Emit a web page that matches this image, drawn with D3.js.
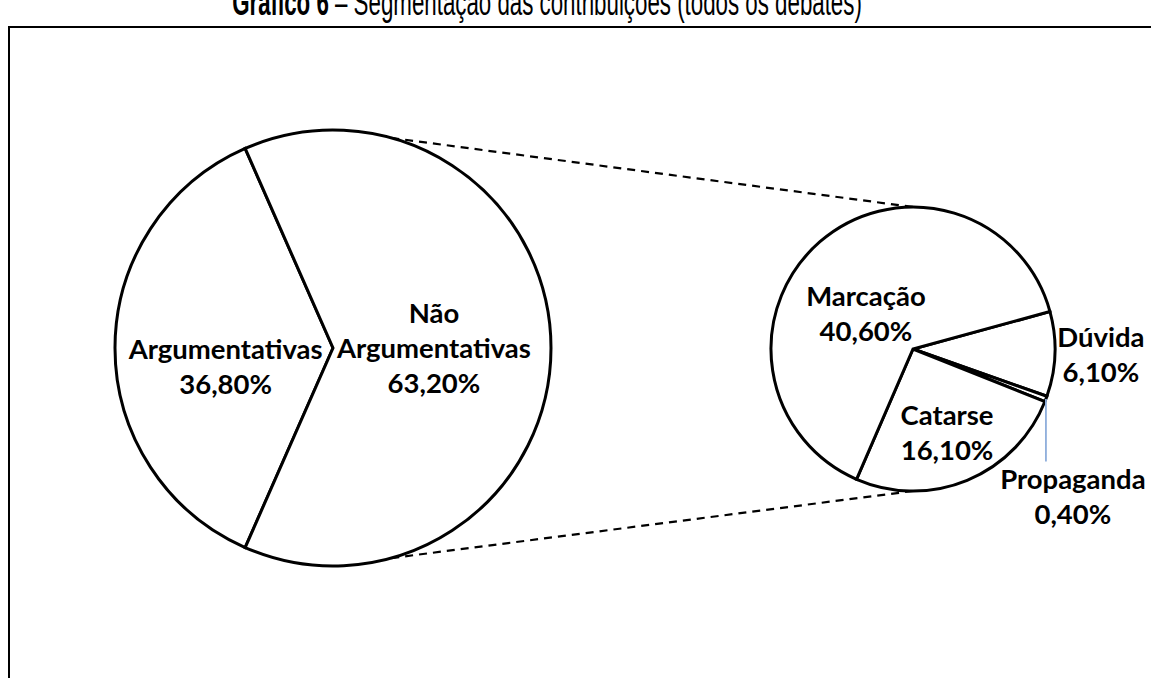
<!DOCTYPE html>
<html>
<head>
<meta charset="utf-8">
<script src="https://cdn.jsdelivr.net/npm/d3@7"></script>
<style>
  body { margin: 0; background: #fff; }
  svg { display: block; }
</style>
</head>
<body>
<script>
// data
const titleBold = "Gráfico 6";
const titleRest = " – Segmentação das contribuições (todos os debates)";
const mainCategories = ["Argumentativas", "Não Argumentativas"];
const mainValues = [36.8, 63.2];
const subCategories = ["Dúvida", "Propaganda", "Catarse", "Marcação"];
const subValues = [6.1, 0.4, 16.1, 40.6];

const width = 1151, height = 678;

// label placement: angle (deg, clockwise from 12 o'clock) and radius factor
const labelLayout = {
  "Argumentativas": [260, 0.50],
  "Não Argumentativas": [90, 0.463],
  "Marcação": [307, 0.415],
  "Catarse": [158, 0.64],
  "Dúvida": [91.7, 1.324],
  "Propaganda": [132.7, 1.532]
};

const ptBR = d3.formatLocale({decimal: ",", thousands: ".", grouping: [3], currency: ["R$", ""]});
const pct = v => ptBR.format(".2f")(v) + "%";
const rad = deg => deg * Math.PI / 180;

const svg = d3.select("body").append("svg")
  .attr("width", width)
  .attr("height", height);

// frame (runs off the right and bottom)
svg.append("rect")
  .attr("x", 9).attr("y", 27)
  .attr("width", width + 20).attr("height", height)
  .attr("fill", "none").attr("stroke", "#000").attr("stroke-width", 2);

// title, tall and cut by the top edge like the scan
const title = svg.append("text")
  .attr("x", 0).attr("y", 0)
  .attr("text-anchor", "middle")
  .style("font-family", "'Liberation Sans', Arial, sans-serif")
  .style("font-size", "20px")
  .attr("fill", "#000");
title.append("tspan").style("font-weight", "bold").text(titleBold);
title.append("tspan").text(titleRest);
const tw = title.node().getComputedTextLength();
title.style("font-size", (20 * 630 / tw) + "px")
  .attr("transform", "translate(547,15) scale(1,1.65)");

// label font, sized so "Argumentativas" matches the reference width
const labelFont = "Lato, 'Noto Sans', sans-serif";
const probe = svg.append("text").style("font-family", labelFont)
  .style("font-weight", "bold").style("font-size", "100px").text("Argumentativas");
const labelSize = 100 * 194 / probe.node().getComputedTextLength();
probe.remove();
const lineGap = 35;

const mainC = {x: 333, y: 348}, mainR = 218;
const subC = {x: 913, y: 349}, subR = 142;

// connector lines between the pies
const polar = (c, r, deg) => [c.x + r * Math.sin(rad(deg)), c.y - r * Math.cos(rad(deg))];
[[15.5, 0], [164.5, 180]].forEach(function(p) {
  const a = polar(mainC, mainR, p[0]), b = polar(subC, subR, p[1]);
  svg.append("line")
    .attr("x1", a[0]).attr("y1", a[1]).attr("x2", b[0]).attr("y2", b[1])
    .attr("stroke", "#000").attr("stroke-width", 2.2)
    .attr("stroke-dasharray", "8,6");
});

function drawLabel(g, c, r, name, lines) {
  const lay = labelLayout[name];
  const p = polar(c, r * lay[1], lay[0]);
  const t = g.append("text")
    .attr("text-anchor", "middle")
    .style("font-family", labelFont)
    .style("font-weight", "bold")
    .style("font-size", labelSize + "px")
    .attr("fill", "#000");
  lines.forEach(function(s, i) {
    t.append("tspan")
      .attr("x", p[0])
      .attr("y", p[1] + (i - (lines.length - 1) / 2) * lineGap)
      .attr("dy", "0.35em")
      .text(s);
  });
  return p;
}

// main pie
const mainStart = 1.5 * Math.PI - Math.PI * mainValues[0] / d3.sum(mainValues);
const mainPie = d3.pie().sort(null).value(d => d)
  .startAngle(mainStart).endAngle(mainStart + 2 * Math.PI);
const mainArc = d3.arc().innerRadius(0).outerRadius(mainR);
const gMain = svg.append("g").attr("transform", `translate(${mainC.x},${mainC.y})`);
gMain.selectAll("path").data(mainPie(mainValues)).join("path")
  .attr("d", mainArc)
  .attr("fill", "#fff").attr("stroke", "#000").attr("stroke-width", 3)
  .attr("stroke-linejoin", "miter");

mainCategories.forEach(function(name, i) {
  const words = name === "Não Argumentativas" ? ["Não", "Argumentativas"] : [name];
  drawLabel(svg, mainC, mainR, name, words.concat([pct(mainValues[i])]));
});

// secondary pie
const subStart = rad(74.7);
const subPie = d3.pie().sort(null).value(d => d)
  .startAngle(subStart).endAngle(subStart + 2 * Math.PI);
const subArc = d3.arc().innerRadius(0).outerRadius(subR);
const subData = subPie(subValues);
const gSub = svg.append("g").attr("transform", `translate(${subC.x},${subC.y})`);
gSub.selectAll("path").data(subData).join("path")
  .attr("d", subArc)
  .attr("fill", "#fff").attr("stroke", "#000").attr("stroke-width", 3)
  .attr("stroke-linejoin", "miter");

subCategories.forEach(function(name, i) {
  const p = drawLabel(svg, subC, subR, name, [name, pct(subValues[i])]);
  if (name === "Propaganda") {
    const mid = (subData[i].startAngle + subData[i].endAngle) / 2 * 180 / Math.PI;
    const e = polar(subC, subR, mid);
    svg.append("line")
      .attr("x1", e[0]).attr("y1", e[1])
      .attr("x2", e[0]).attr("y2", p[1] - lineGap)
      .attr("stroke", "#8eaedb").attr("stroke-width", 1.8);
  }
});
</script>
</body>
</html>
